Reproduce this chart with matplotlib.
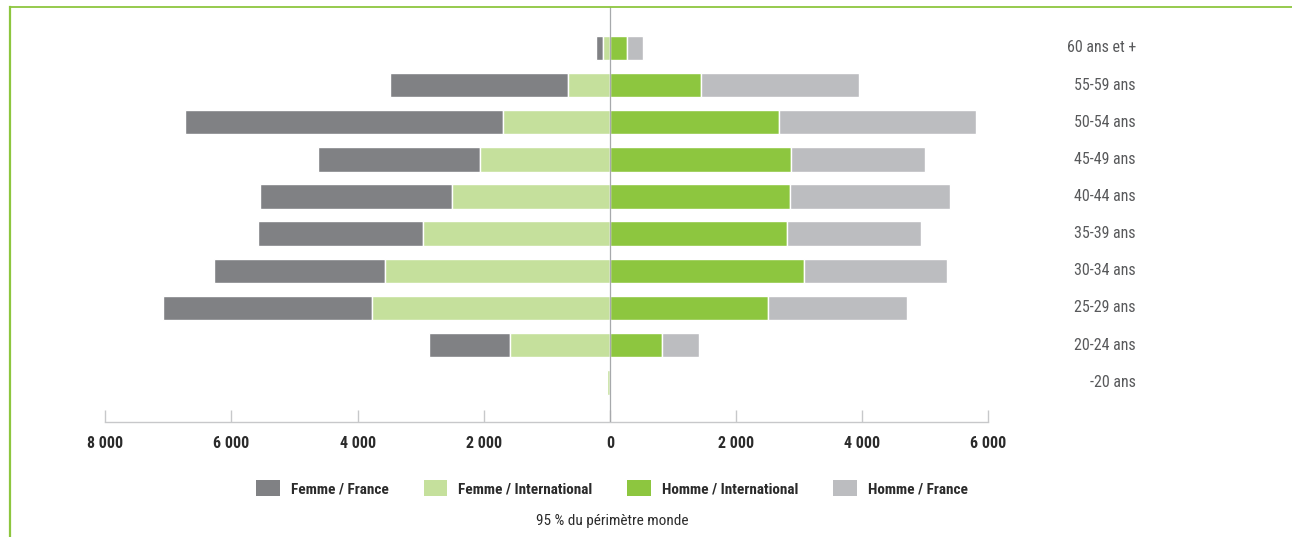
import matplotlib
matplotlib.use("Agg")
import matplotlib.pyplot as plt
from matplotlib import font_manager
from matplotlib.lines import Line2D
from matplotlib.transforms import blended_transform_factory
import numpy as np

# Age pyramid of the workforce, women on the left, men on the right
age_groups = ["-20 ans", "20-24 ans", "25-29 ans", "30-34 ans", "35-39 ans",
              "40-44 ans", "45-49 ans", "50-54 ans", "55-59 ans", "60 ans et +"]
femme_international = [45, 1590, 3770, 3560, 2955, 2510, 2065, 1695, 665, 110]
femme_france = [0, 1270, 3315, 2715, 2630, 3035, 2565, 5045, 2825, 110]
homme_international = [0, 820, 2515, 3080, 2805, 2860, 2865, 2685, 1450, 275]
homme_france = [0, 600, 2190, 2260, 2130, 2525, 2130, 3120, 2500, 250]

tick_values = [-8000, -6000, -4000, -2000, 0, 2000, 4000, 6000]
tick_labels = ["8 000", "6 000", "4 000", "2 000", "0", "2 000", "4 000", "6 000"]

series_labels = ["Femme / France", "Femme / International",
                 "Homme / International", "Homme / France"]
colors = {"ff": "#808184", "fi": "#c5e09c", "hi": "#8dc63f", "hf": "#bcbdc0"}
text_dark = "#2b2b2b"
label_grey = "#58595b"
axis_grey = "#c7c8ca"
border_green = "#8dc63f"

# Prefer a narrow sans face; fall back to condensed DejaVu
installed = {f.name for f in font_manager.fontManager.ttflist}
narrow_candidates = ["Liberation Sans Narrow", "Roboto Condensed",
                     "Open Sans Condensed", "DejaVu Sans Condensed"]
narrow = next((n for n in narrow_candidates if n in installed), None)
if narrow is None:
    narrow = "DejaVu Sans"
    stretch = "condensed"
else:
    stretch = "normal"
font = [narrow, "DejaVu Sans"]
plt.rcParams["font.family"] = font
plt.rcParams["font.stretch"] = stretch

W, H = 1292, 537
fig = plt.figure(figsize=(W / 100, H / 100), dpi=100)

left_px, right_px = 105.3, 988.3
bottom_px, top_px = 421.7, 7.0
ax = fig.add_axes([left_px / W, 1 - bottom_px / H,
                   (right_px - left_px) / W, (bottom_px - top_px) / H])

y = np.arange(len(age_groups))
fi = np.array(femme_international)
ff = np.array(femme_france)
hi = np.array(homme_international)
hf = np.array(homme_france)
bar_h = 0.66
edge = dict(edgecolor="white", linewidth=1.0)

b_ff = ax.barh(y, -ff, left=-fi, height=bar_h, color=colors["ff"], **edge)
b_fi = ax.barh(y, -fi, left=0, height=bar_h, color=colors["fi"], **edge)
b_hi = ax.barh(y, hi, left=0, height=bar_h, color=colors["hi"], **edge)
b_hf = ax.barh(y, hf, left=hi, height=bar_h, color=colors["hf"], **edge)

ax.axvline(0, color="#a7a9ac", linewidth=0.9, zorder=3)

ax.set_xlim(-8000, 6000)
ax.set_ylim(-1.06, 10.10)

for side in ("top", "left", "right"):
    ax.spines[side].set_visible(False)
ax.spines["bottom"].set_color(axis_grey)
ax.spines["bottom"].set_linewidth(1.0)
ax.set_yticks([])
ax.set_xticks(tick_values)
ax.set_xticklabels(tick_labels, fontsize=11.5, fontweight="bold", color=text_dark)
ax.tick_params(axis="x", direction="in", length=8.6, width=1.0,
               color=axis_grey, pad=10)

# Age group names, right-aligned in the margin
trans = blended_transform_factory(fig.transFigure, ax.transData)
for yi, name in zip(y, age_groups):
    ax.text(1136 / W, yi, name, transform=trans, ha="right", va="center",
            fontsize=11.5, color=label_grey)

leg = fig.legend([b_ff, b_fi, b_hi, b_hf], series_labels, loc="center",
                 bbox_to_anchor=(612 / W, 1 - 488 / H), ncol=4, frameon=False,
                 handlelength=1.55, handleheight=1.25, handletextpad=0.7,
                 columnspacing=2.3,
                 prop={"family": font, "size": 11, "weight": "bold",
                       "stretch": stretch})
for t in leg.get_texts():
    t.set_color(text_dark)
for p in leg.get_patches():
    p.set_edgecolor("none")

fig.text(612 / W, 1 - 521 / H, "95 % du périmètre monde", ha="center",
         va="center", fontsize=11, color=text_dark)

# Green frame along the top and left edges
fig.add_artist(Line2D([9.7 / W, 1], [1 - 6.7 / H, 1 - 6.7 / H],
                      transform=fig.transFigure, color=border_green, linewidth=1.3))
fig.add_artist(Line2D([9.7 / W, 9.7 / W], [0, 1 - 6.7 / H],
                      transform=fig.transFigure, color=border_green, linewidth=1.6))

fig.savefig("out.png", dpi=100, facecolor="white")
